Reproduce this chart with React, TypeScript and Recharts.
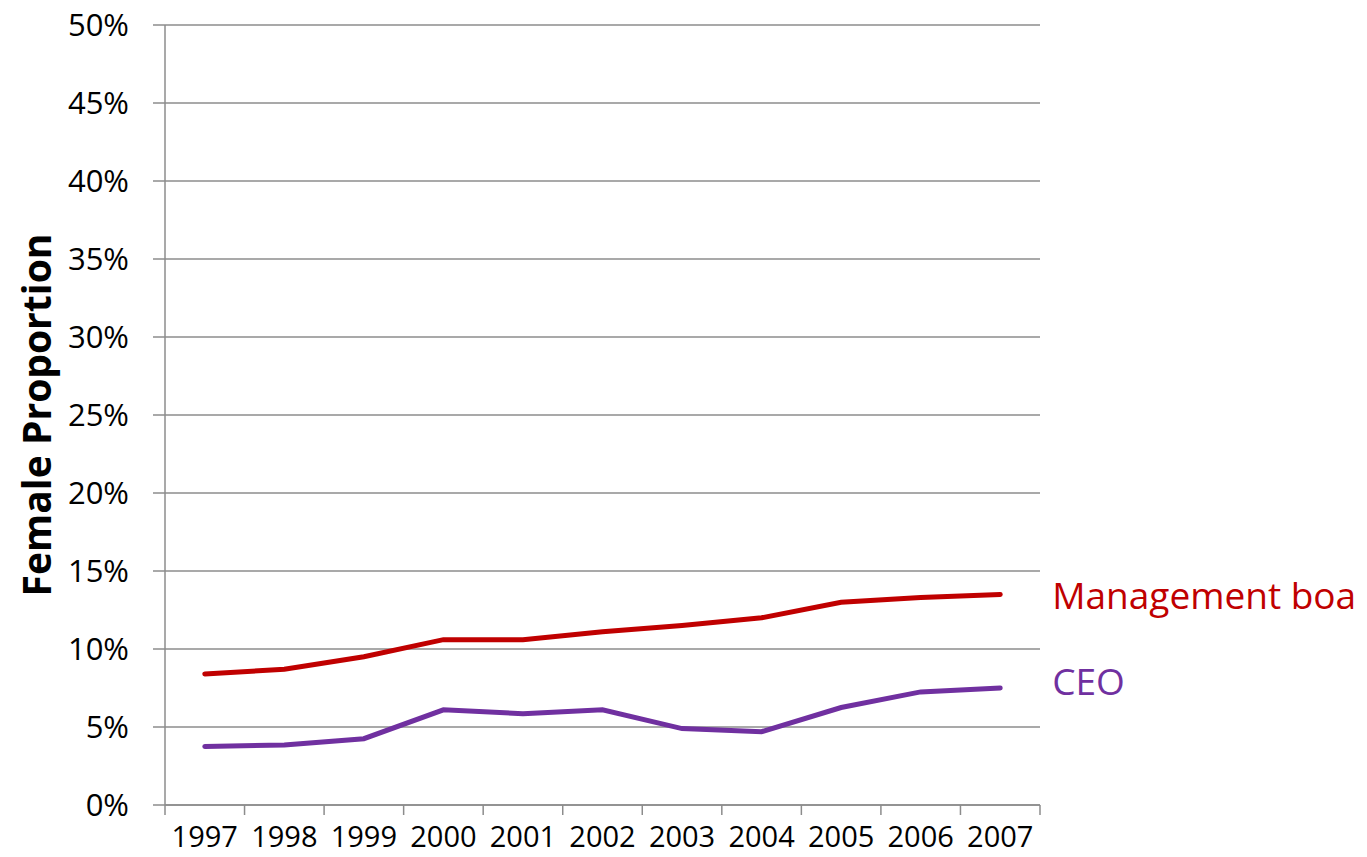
import React from "react";
import { LineChart, Line, XAxis, YAxis, CartesianGrid, LabelList, Label } from "recharts";

// ─── Data ─────────────────────────────────────────────────────────────────────

const years = ["1997", "1998", "1999", "2000", "2001", "2002", "2003", "2004", "2005", "2006", "2007"];
const managementBoard = [8.4, 8.7, 9.5, 10.6, 10.6, 11.1, 11.5, 12.0, 13.0, 13.3, 13.5];
const ceo = [3.75, 3.85, 4.25, 6.1, 5.85, 6.1, 4.9, 4.7, 6.25, 7.25, 7.5];
const yTicks = [0, 5, 10, 15, 20, 25, 30, 35, 40, 45, 50];

const data = years.map((year, i) => ({
  year,
  board: managementBoard[i],
  ceo: ceo[i],
}));

// ─── Layout ───────────────────────────────────────────────────────────────────

const W = 1367;
const H = 857;
const PLOT_LEFT = 165;
const PLOT_RIGHT = 1040;
const PLOT_TOP = 25;
const PLOT_BOTTOM = 805;
const HALF_BAND = (PLOT_RIGHT - PLOT_LEFT) / years.length / 2;

const FONT = "'Open Sans', 'DejaVu Sans', sans-serif";
const GRID = "#8c8c8c";
const RED = "#c00000";
const PURPLE = "#7030a0";

const XTick = (props: any) => {
  const { x, y, payload, index, visibleTicksCount } = props;
  const isLast = index === visibleTicksCount - 1;
  return (
    <g>
      <line x1={x - HALF_BAND} x2={x - HALF_BAND} y1={y} y2={y + 10} stroke={GRID} strokeWidth={1.5} />
      {isLast && (
        <line x1={x + HALF_BAND} x2={x + HALF_BAND} y1={y} y2={y + 10} stroke={GRID} strokeWidth={1.5} />
      )}
      <text x={x} y={y + 42} textAnchor="middle" fontSize={29} fill="#000" fontFamily={FONT}>
        {payload.value}
      </text>
    </g>
  );
};

const endLabel = (text: string, color: string, dy: number) => (props: any) => {
  const { x, y, index } = props;
  if (index !== years.length - 1) return null;
  return (
    <text x={x + 52} y={y + dy} dominantBaseline="central" fontSize={37} fill={color} fontFamily={FONT}>
      {text}
    </text>
  );
};

export default function App() {
  return (
    <div style={{ position: "absolute", left: 0, top: 0, width: W, height: H, background: "#fff" }}>
      <LineChart
        width={W}
        height={H}
        data={data}
        margin={{ top: PLOT_TOP, right: W - PLOT_RIGHT, bottom: 0, left: 0 }}
      >
        <CartesianGrid vertical={false} stroke={GRID} strokeWidth={1.5} />
        <XAxis
          dataKey="year"
          padding={{ left: HALF_BAND, right: HALF_BAND }}
          axisLine={{ stroke: GRID, strokeWidth: 1.5 }}
          tickLine={false}
          tickSize={0}
          tickMargin={0}
          interval={0}
          height={H - PLOT_BOTTOM}
          tick={<XTick />}
        />
        <YAxis
          domain={[0, 50]}
          ticks={yTicks}
          width={PLOT_LEFT}
          axisLine={{ stroke: GRID, strokeWidth: 1.5 }}
          tickLine={{ stroke: GRID, strokeWidth: 1.5 }}
          tickSize={12}
          tickMargin={24}
          tickFormatter={(v) => `${v}%`}
          tick={{ fontSize: 31, fill: "#000", fontFamily: FONT }}
        >
          <Label
            content={() => (
              <text
                transform="translate(35,415) rotate(-90)"
                textAnchor="middle"
                dominantBaseline="central"
                fontSize={39}
                fontWeight={700}
                fill="#000"
                fontFamily={FONT}
              >
                Female Proportion
              </text>
            )}
          />
        </YAxis>
        <Line
          type="linear"
          dataKey="board"
          stroke={RED}
          strokeWidth={5}
          strokeLinecap="round"
          dot={false}
          activeDot={false}
          isAnimationActive={false}
        >
          <LabelList dataKey="board" content={endLabel("Management boa", RED, 0)} />
        </Line>
        <Line
          type="linear"
          dataKey="ceo"
          stroke={PURPLE}
          strokeWidth={5}
          strokeLinecap="round"
          dot={false}
          activeDot={false}
          isAnimationActive={false}
        >
          <LabelList dataKey="ceo" content={endLabel("CEO", PURPLE, -8)} />
        </Line>
      </LineChart>
    </div>
  );
}
